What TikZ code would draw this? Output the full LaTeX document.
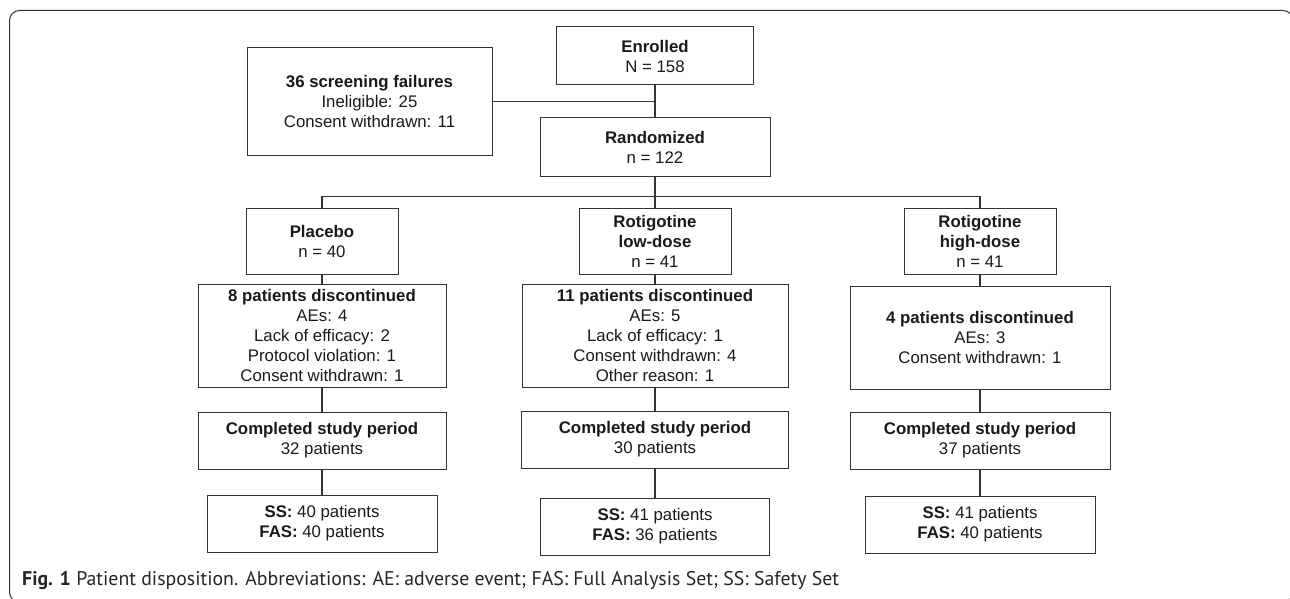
\documentclass[tikz,border=0pt]{standalone}
\usepackage{fontspec}
\setmainfont{Liberation Sans}
\newfontfamily\capfont{PT Sans}

\begin{document}
\begin{tikzpicture}[x=1pt,y=-1pt]
    \tikzstyle{box}=[draw=black!80, line width=1pt, align=center, inner sep=0pt, text=black!90, font=\fontsize{16.8}{20}\selectfont]
    \tikzstyle{link}=[draw=black!80, line width=1.2pt]
    \useasboundingbox (0,0) rectangle (1290,599);
    \draw[black!80, line width=1pt, rounded corners=10pt] (9.5,10.5) rectangle (1293,602);
    \node[box, minimum width=197pt, minimum height=58pt] (enrolled) at (655,56) {\textbf{Enrolled}\\N = 158};
    \node[box, minimum width=245pt, minimum height=107pt] (screen) at (369.5,101.5) {\textbf{36 screening failures}\\Ineligible: 25\\Consent withdrawn: 11};
    \node[box, minimum width=230pt, minimum height=58pt] (random) at (655,147) {\textbf{Randomized}\\n = 122};
    \node[box, minimum width=152pt, minimum height=66pt] (placebo) at (322,241) {\textbf{Placebo}\\n = 40};
    \node[box, minimum width=152pt, minimum height=66pt] (low) at (655,241) {\textbf{Rotigotine}\\\textbf{low-dose}\\n = 41};
    \node[box, minimum width=152pt, minimum height=66pt] (high) at (980,241) {\textbf{Rotigotine}\\\textbf{high-dose}\\n = 41};
    \node[box, minimum width=248pt, minimum height=103pt] (pdisc) at (322,335.5) {\textbf{8 patients discontinued}\\AEs: 4\\Lack of efficacy: 2\\Protocol violation: 1\\Consent withdrawn: 1};
    \node[box, minimum width=266pt, minimum height=103pt] (ldisc) at (655,335.5) {\textbf{11 patients discontinued}\\AEs: 5\\Lack of efficacy: 1\\Consent withdrawn: 4\\Other reason: 1};
    \node[box, minimum width=260pt, minimum height=103pt] (hdisc) at (980,337.5) {\textbf{4 patients discontinued}\\AEs: 3\\Consent withdrawn: 1};
    \node[box, minimum width=248pt, minimum height=57pt] (pcomp) at (322,440.5) {\textbf{Completed study period}\\32 patients};
    \node[box, minimum width=267pt, minimum height=57pt] (lcomp) at (655,439.5) {\textbf{Completed study period}\\30 patients};
    \node[box, minimum width=260pt, minimum height=57pt] (hcomp) at (980,440.5) {\textbf{Completed study period}\\37 patients};
    \node[box, minimum width=230pt, minimum height=57pt] (pss) at (322,523.5) {\textbf{SS:} 40 patients\\\textbf{FAS:} 40 patients};
    \node[box, minimum width=229pt, minimum height=57pt] (lss) at (655,526.5) {\textbf{SS:} 41 patients\\\textbf{FAS:} 36 patients};
    \node[box, minimum width=230pt, minimum height=57pt] (hss) at (980,524.5) {\textbf{SS:} 41 patients\\\textbf{FAS:} 40 patients};
    \node[anchor=base west, inner sep=0pt, text=black!85, font=\capfont\fontsize{19.8}{23}\selectfont] (caption) at (22,585) {\textbf{Fig. 1} Patient disposition. Abbreviations: AE: adverse event; FAS: Full Analysis Set; SS: Safety Set};
    \draw[link] (enrolled) -- (random);
    \draw[link] (screen.east) -- (screen.east -| enrolled.south);
    \draw[link] (random.south) -- ++(0,20) coordinate (split);
    \draw[link] (placebo.north) |- (split) -| (high.north);
    \draw[link] (split) -- (low.north);
    \foreach \from/\to in {placebo/pdisc, pdisc/pcomp, pcomp/pss, low/ldisc, ldisc/lcomp, lcomp/lss, high/hdisc, hdisc/hcomp, hcomp/hss}
      \draw[link] (\from) -- (\to);
\end{tikzpicture}
\end{document}
